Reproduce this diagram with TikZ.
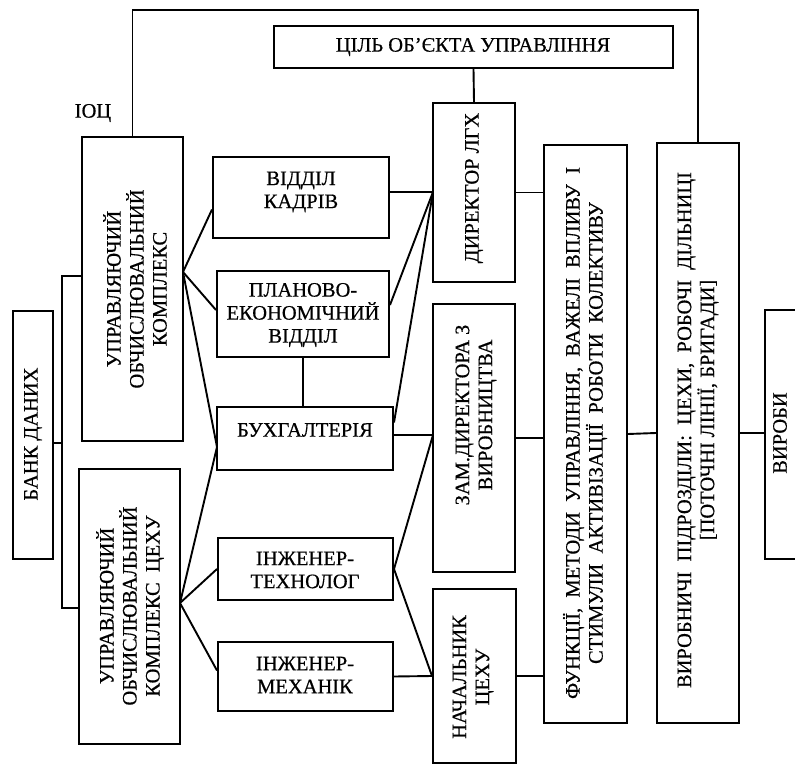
\documentclass[tikz,border=0pt]{standalone}
\usepackage{fontspec}
\setmainfont{Liberation Serif}[FakeBold=0.5]
\usetikzlibrary{calc}
\begin{document}
\begin{tikzpicture}[x=1pt, y=-1pt,
  every node/.style={font=\fontsize{20.5}{23}\selectfont},
  box/.style={draw, line width=2pt, inner sep=0pt},
  txt/.style={inner sep=0pt, align=center},
  vtxt/.style={inner sep=0pt, align=center, rotate=90},
  link/.style={line width=1.9pt}]
\useasboundingbox (0,0) rectangle (795,765);
\clip (0,0) rectangle (795,765);

% boxes
\node[box, minimum width=399, minimum height=42] (bmeta) at (473.5,47) {};
\node[box, minimum width=40,  minimum height=248] (bbank) at (33,435) {};
\node[box, minimum width=101, minimum height=304] (buok) at (132.5,289) {};
\node[box, minimum width=101, minimum height=275] (buokc) at (129.5,606.5) {};
\node[box, minimum width=176, minimum height=81] (bkadry) at (301,197.5) {};
\node[box, minimum width=172, minimum height=86] (bplan) at (303,314) {};
\node[box, minimum width=176, minimum height=63] (bbuh) at (305,438.5) {};
\node[box, minimum width=175, minimum height=62] (btech) at (305.5,569) {};
\node[box, minimum width=175, minimum height=69] (bmech) at (305.5,676.5) {};
\node[box, minimum width=82,  minimum height=179] (bdir) at (474,192.5) {};
\node[box, minimum width=82,  minimum height=268] (bzam) at (474,438) {};
\node[box, minimum width=83,  minimum height=174] (bnach) at (474.5,676) {};
\node[box, minimum width=83,  minimum height=578] (bfun) at (585.5,434) {};
\node[box, minimum width=82,  minimum height=580] (bvyr) at (698,433) {};
\node[box, minimum width=70,  minimum height=249] (bvyroby) at (800,434.5) {};

% texts
\node[txt] (tmeta) at (473,47) {ЦІЛЬ ОБ'ЄКТА УПРАВЛІННЯ};
\node[txt] (tioc) at (93,113) {ІОЦ};
\node[vtxt] (tbank) at (33,434) {БАНК ДАНИХ};
\node[vtxt] (tuok) at (135,289) {УПРАВЛЯЮЧИЙ\\ОБЧИСЛЮВАЛЬНИЙ\\КОМПЛЕКС};
\node[vtxt] (tuokc) at (130,606) {УПРАВЛЯЮЧИЙ\\ОБЧИСЛЮВАЛЬНИЙ\\КОМПЛЕКС\ \ ЦЕХУ};
\node[txt] (tkadry) at (301,192) {ВІДДІЛ\\КАДРІВ};
\node[txt] (tplan) at (303,315) {ПЛАНОВО-\\ЕКОНОМІЧНИЙ\\ВІДДІЛ};
\node[txt] (tbuh) at (305,430) {БУХГАЛТЕРІЯ};
\node[txt] (ttech) at (305,570) {ІНЖЕНЕР-\\ТЕХНОЛОГ};
\node[txt] (tmech) at (305,675) {ІНЖЕНЕР-\\МЕХАНІК};
\node[vtxt] (tdir) at (474,188) {ДИРЕКТОР ЛГХ};
\node[vtxt] (tzam) at (476,415) {ЗАМ.ДИРЕКТОРА З\\ВИРОБНИЦТВА};
\node[vtxt] (tnach) at (473,677) {НАЧАЛЬНИК\\ЦЕХУ};
\node[vtxt] (tfun) at (585,433) {ФУНКЦІЇ,\ \ МЕТОДИ\ \ УПРАВЛІННЯ,\ \ ВАЖЕЛІ\ \ ВПЛИВУ\ \ І\\СТИМУЛИ\ \ АКТИВІЗАЦІЇ\ \ РОБОТИ\ \ КОЛЕКТИВУ};
\node[vtxt] (tvyr) at (698,430) {ВИРОБНИЧІ\ \ ПІДРОЗДІЛИ:\ \ ЦЕХИ,\ \ РОБОЧІ\ \ ДІЛЬНИЦІ\\\hspace*{40pt}[ПОТОЧНІ ЛІНІЇ, БРИГАДИ]};
\node[vtxt] (tvyroby) at (780,433) {ВИРОБИ};

% junction points
\coordinate (frametop) at (400,10);
\coordinate (bt) at (62,276);
\coordinate (bb) at (62,608);
\coordinate (bj) at (62,443);
\coordinate (fu) at (183,272);
\coordinate (fuc) at (180,603);
\coordinate (fb) at (217,447);
\coordinate (fd) at (433,192);
\coordinate (fz) at (433,435);

% outer feedback frame
\draw[link] (buok.north) |- (frametop) -| (bvyr.north);
\draw[link] (bmeta.south) -- (bdir.north);

% data bank bracket
\draw[link] (buok.west |- bt) -- (bt) -- (bb) -- (buokc.west |- bb);
\draw[link] (bbank.east |- bj) -- (bj);

% computing complexes to departments
\draw[link] (fu) -- ([yshift=-12pt]bkadry.west);
\draw[link] (fu) -- ([yshift=4pt]bplan.west);
\draw[link] (fu) -- (fb);
\draw[link] (fuc) -- (fb);
\draw[link] (fuc) -- (btech.west);
\draw[link] (fuc) -- ([yshift=6pt]bmech.west);
\draw[link] (bplan.south) -- (bbuh.north -| bplan.south);

% departments to managers
\draw[link] (bkadry.east |- fd) -- (fd);
\draw[link] ([yshift=9pt]bplan.east) -- (fd);
\draw[link] ([yshift=16pt]bbuh.east) -- (fd);
\draw[link] (bbuh.east |- fz) -- (fz);
\draw[link] (fz) -- (btech.east);
\draw[link] (btech.east) -- (bnach.west);
\draw[link] (bmech.east) -- (bnach.west);

% managers to functions, units and products
\draw[link] (bdir.east) -- (bdir.east -| bfun.west);
\draw[link] (bzam.east) -- (bzam.east -| bfun.west);
\draw[link] (bnach.east) -- (bnach.east -| bfun.west);
\draw[link] (bfun.east) -- (bvyr.west);
\draw[link] (bvyr.east) -- (bvyr.east -| bvyroby.west);
\end{tikzpicture}
\end{document}
